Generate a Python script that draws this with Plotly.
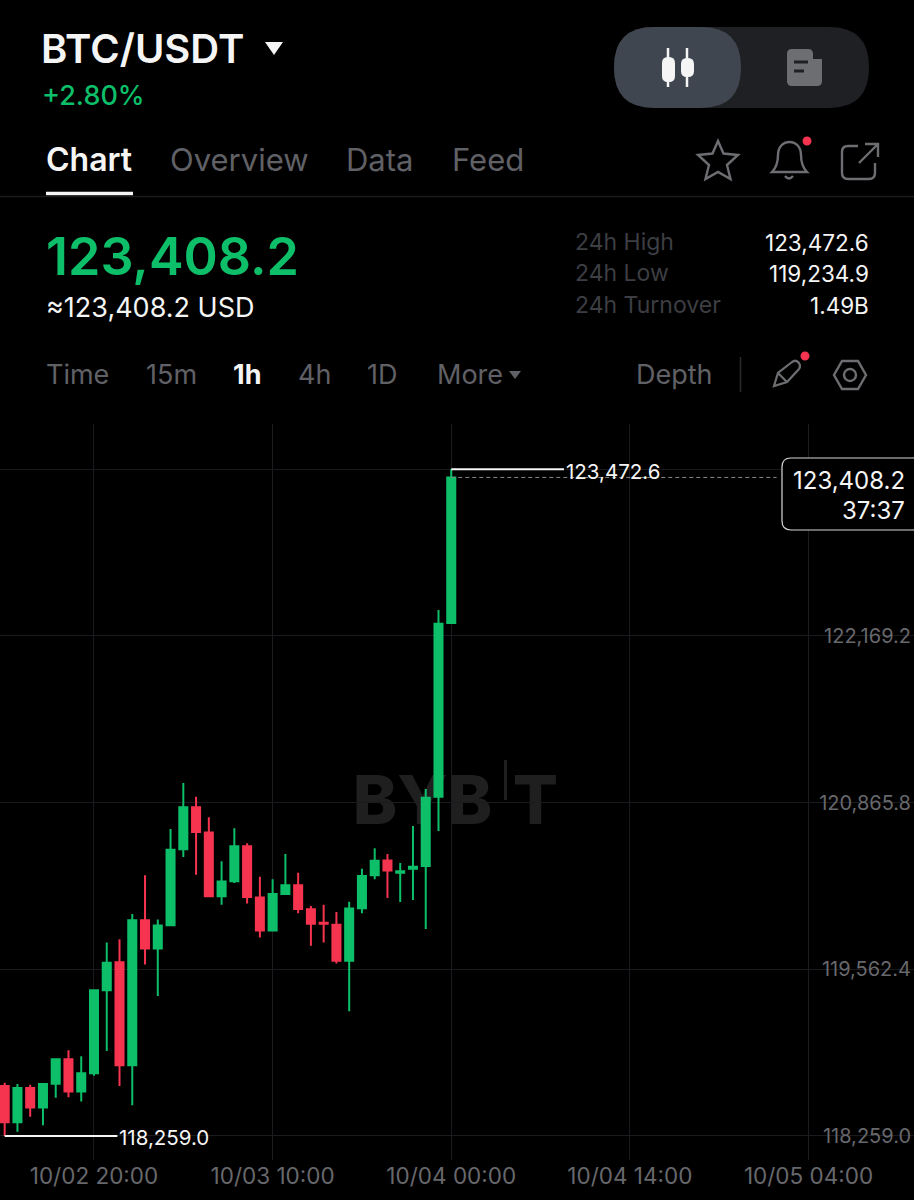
import re
import pandas as pd
import plotly.graph_objects as go

W, H = 914, 1200

hours = pd.date_range("2025-10-02 13:00", periods=36, freq="h")
opens = [118650, 118366, 118634, 118481, 118668, 118859, 118606, 118749, 119398, 119617, 118812, 119945,
         119726, 119906, 120501, 120829, 120633, 120133, 120250, 120524, 120123, 119865, 120151, 120219,
         120031, 119927, 119911, 119630, 120039, 120297, 120414, 120318, 120349, 120370, 120912, 122270]
highs = [118676, 118666, 118660, 118671, 118864, 118929, 118882, 119403, 119771, 119797, 119995, 120297,
         119951, 120659, 121019, 120912, 120751, 120407, 120665, 120547, 120287, 120266, 120464, 120318,
         120057, 120068, 120011, 120091, 120349, 120508, 120464, 120394, 120683, 120972, 122372, 123472.6]
lows = [118259, 118293, 118410, 118343, 118559, 118561, 118528, 118731, 118924, 118650, 118499, 119599,
        119354, 119901, 120441, 120302, 120133, 120068, 120237, 120076, 119812, 119859, 120143, 120000,
        119747, 119771, 119607, 119234.9, 120000, 120266, 120120, 120089, 120104, 119878, 120644, 122270]
closes = [118366, 118634, 118481, 118666, 118859, 118606, 118749, 119398, 119614, 118812, 119945, 119726,
          119904, 120498, 120829, 120636, 120133, 120248, 120524, 120128, 119865, 120151, 120219, 120034,
          119919, 119919, 119630, 120037, 120292, 120412, 120334, 120329, 120365, 120904, 122265, 123408.2]

price_ticks = [118259.0, 119562.4, 120865.8, 122169.2, 123472.6]
price_labels = ["118,259.0", "119,562.4", "120,865.8", "122,169.2", ""]
time_ticks = ["2025-10-02 20:00", "2025-10-03 10:00", "2025-10-04 00:00", "2025-10-04 14:00", "2025-10-05 04:00"]
time_labels = ["10/02 20:00", "10/03 10:00", "10/04 00:00", "10/04 14:00", "10/05 04:00"]

last_price = 123408.2
high_price = 123472.6
low_price = 118259.0

FONT = "Inter"
GREEN = "#0dbf69"
RED = "#f6344f"
WHITE = "#f5f5f5"
GREY = "#606166"
DIM = "#3d3e43"
ICON = "#6d6e72"


def fx(x):
    return x / W


def fy(y):
    return 1 - y / H


def px_path(d):
    # pixel path -> paper coords, numbers alternate x then y
    nums = iter(range(10000))
    def conv(m):
        v = float(m.group(0))
        return f"{fx(v):.5f}" if next(nums) % 2 == 0 else f"{fy(v):.5f}"
    return re.sub(r"-?\d+\.?\d*", conv, d)


def rrect(x0, y0, x1, y1, r):
    return (f"M{x0+r} {y0} L{x1-r} {y0} Q{x1} {y0} {x1} {y0+r} L{x1} {y1-r} Q{x1} {y1} {x1-r} {y1} "
            f"L{x0+r} {y1} Q{x0} {y1} {x0} {y1-r} L{x0} {y0+r} Q{x0} {y0} {x0+r} {y0} Z")


def circle(cx, cy, r):
    k = r * 0.552
    return (f"M{cx-r} {cy} C{cx-r} {cy-k} {cx-k} {cy-r} {cx} {cy-r} C{cx+k} {cy-r} {cx+r} {cy-k} {cx+r} {cy} "
            f"C{cx+r} {cy+k} {cx+k} {cy+r} {cx} {cy+r} C{cx-k} {cy+r} {cx-r} {cy+k} {cx-r} {cy} Z")


shapes = []


def add_path(d, fill=None, line=None, width=0, layer="above"):
    shapes.append(dict(type="path", xref="paper", yref="paper", path=px_path(d), layer=layer,
                       fillcolor=fill if fill else "rgba(0,0,0,0)",
                       line=dict(color=line if line else "rgba(0,0,0,0)", width=width)))


annotations = []


def add_text(x, y, text, size, color, anchor="left", weight=400):
    # annotation boxes sit about 1.5px inside the anchor
    x = x - 1.5 if anchor == "left" else x + 1.5
    annotations.append(dict(x=fx(x), y=fy(y), xref="paper", yref="paper", text=text, showarrow=False,
                            xanchor=anchor, yanchor="middle", borderpad=0,
                            font=dict(family=FONT, size=size, color=color, weight=weight)))


def add_watermark(x0, y0, x1, y1, text, size):
    shapes.append(dict(type="rect", xref="paper", yref="paper", x0=fx(x0), x1=fx(x1), y0=fy(y1), y1=fy(y0),
                       layer="below", line=dict(width=0), fillcolor="rgba(0,0,0,0)",
                       label=dict(text=text, textposition="middle center",
                                  font=dict(family=FONT, size=size, color="#1f1f1f", weight=800))))


fig = go.Figure(go.Candlestick(
    x=hours, open=opens, high=highs, low=lows, close=closes,
    increasing=dict(line=dict(color=GREEN, width=2), fillcolor=GREEN),
    decreasing=dict(line=dict(color=RED, width=2), fillcolor=RED),
    whiskerwidth=0, showlegend=False,
))

# header
add_text(41, 48, "BTC/USDT", 40, WHITE, weight=600)
add_path("M265 42 L283 42 L274 55 Z", fill=WHITE)
add_text(42, 96, "+2.80%", 27, GREEN, weight=500)

# switch
add_path(rrect(614, 27, 869, 108, 40), fill="#1f2024")
add_path(rrect(614, 27, 741, 108, 40), fill="#3f4650")
add_path("M668 48 L668 87 M687 48 L687 87", line=WHITE, width=2.5)
add_path(rrect(662, 57, 675, 82, 6), fill=WHITE)
add_path(rrect(681, 58, 694, 77, 6), fill=WHITE)
add_path(rrect(787, 49, 813, 86, 5), fill=ICON)
add_path("M813 59 L822 59 L822 81 Q822 86 817 86 L808 86 Z", fill=ICON)
add_path("M794 62 L808 62 M794 71 L804 71", line="#1f2024", width=3)

# tabs
add_text(46, 160, "Chart", 32, WHITE, weight=600)
add_text(170, 160, "Overview", 31, GREY)
add_text(346, 160, "Data", 31, GREY)
add_text(452, 160, "Feed", 31, GREY)
add_path("M46 193.5 L133 193.5", line=WHITE, width=3.5)
add_path("M0 196.5 L914 196.5", line="#1b1b1e", width=1.5)

# star, bell, share
add_path("M718 141 L723.5 153.5 L738 155 L727 165 L730.5 179 L718 172 L705.5 179 L709 165 L698 155 L712.5 153.5 Z",
         line=ICON, width=2.4)
add_path("M772 172 C777 167 778 162 778 155 C778 147 783 142 789.5 142 C796 142 801 147 801 155 "
         "C801 162 802 167 807 172 Z M785 176 Q789 181 793 176", line=ICON, width=2.4)
add_path(circle(807, 141, 4.5), fill=RED)
add_path("M858 146 L848 146 Q842 146 842 152 L842 173 Q842 179 848 179 L869 179 Q875 179 875 173 L875 163 "
         "M859 163 L878 144 M865 144 L878 144 L878 157", line=ICON, width=2.4)

# price block
add_text(46, 256, "123,408.2", 52, GREEN, weight=600)
add_text(46, 308, "≈123,408.2 USD", 27, WHITE)
add_text(575, 242, "24h High", 23, DIM)
add_text(575, 273, "24h Low", 23, DIM)
add_text(575, 305, "24h Turnover", 23, DIM)
add_text(868, 242, "123,472.6", 22.5, WHITE, anchor="right")
add_text(868, 273, "119,234.9", 22.5, WHITE, anchor="right")
add_text(868, 305, "1.49B", 22.5, WHITE, anchor="right")

# interval row
add_text(46, 374, "Time", 27, GREY)
add_text(146, 374, "15m", 27, GREY)
add_text(233, 374, "1h", 27, WHITE, weight=700)
add_text(298, 374, "4h", 27, GREY)
add_text(367, 374, "1D", 27, GREY)
add_text(437, 374, "More", 27, GREY)
add_path("M509 371 L521 371 L515 379 Z", fill=GREY)
add_text(636, 374, "Depth", 27, GREY)
add_path("M740.5 357 L740.5 392", line="#2a2b2e", width=1.5)
add_path("M774 386 L778 373 L792 362 Q796 359 799 363 Q801 366 799 369 L787 382 Z M778 373 L787 382",
         line=ICON, width=2.2)
add_path(circle(805, 356, 4.5), fill=RED)
add_path("M834 375 L842 361 L858 361 L866 375 L858 389 L842 389 Z", line=ICON, width=2.4)
add_path(circle(850, 375, 6), line=ICON, width=2.4)

# watermark, sits under the candles
add_watermark(352, 765, 493, 830, "BYB", 67)
add_watermark(507, 765, 564, 830, "T", 67)
add_path("M505.5 760 L505.5 800", line="#1f1f1f", width=3, layer="below")

# high / low / last markers
fig.add_shape(type="line", xref="x", yref="y", x0=hours[35], x1="2025-10-04 08:50", y0=high_price, y1=high_price,
              line=dict(color=WHITE, width=2))
fig.add_shape(type="line", xref="x", yref="y", x0=hours[0], x1="2025-10-02 21:50", y0=low_price, y1=low_price,
              line=dict(color=WHITE, width=2))
fig.add_shape(type="line", xref="x", yref="y", x0=hours[35], x1="2025-10-05 01:30",
              y0=last_price, y1=last_price, line=dict(color="#8a8a8a", width=1, dash="4px,3px"))
add_text(566, 471, "123,472.6", 20.5, WHITE)
add_text(119, 1137, "118,259.0", 20.5, WHITE)

# last price tag
add_path(rrect(782, 458, 930, 530, 9), fill="#000000", line="#d8d8d8", width=1.2)
add_text(904, 480, "123,408.2", 24, WHITE, anchor="right")
add_text(904, 511, "37:37", 24, WHITE, anchor="right")

fig.update_layout(
    width=W, height=H, autosize=False,
    margin=dict(l=0, r=0, t=0, b=0),
    paper_bgcolor="#000000", plot_bgcolor="#000000",
    font=dict(family=FONT),
    shapes=list(fig.layout.shapes) + shapes,
    annotations=annotations,
    hovermode=False,
    boxgap=0.1,
    xaxis=dict(
        type="date", range=["2025-10-02 12:38", "2025-10-05 12:16"],
        rangeslider=dict(visible=False),
        tickmode="array", tickvals=time_ticks, ticktext=time_labels,
        tickfont=dict(family=FONT, size=22.5, color="#67686c"),
        showgrid=True, gridcolor="#1a1a1f", gridwidth=1.2, zeroline=False, showline=False, ticks="",
    ),
    yaxis=dict(
        domain=[1 - 1160 / H, 1 - 424 / H],
        range=[118071.3, 123826.1], side="right", ticklabelposition="inside",
        tickmode="array", tickvals=price_ticks, ticktext=price_labels,
        tickfont=dict(family=FONT, size=20, color="#67686c"),
        showgrid=True, gridcolor="#1a1a1f", gridwidth=1.2, zeroline=False, showline=False, ticks="",
    ),
)

# page margin off so the chart fills the window
fig.write_html("out.html", config=dict(displayModeBar=False), post_script="document.body.style.margin='0';")
